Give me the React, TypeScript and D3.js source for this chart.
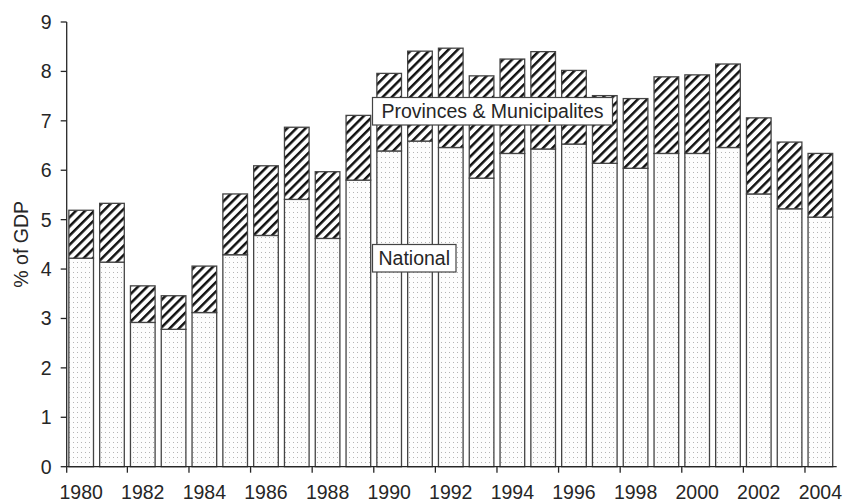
import React, { useEffect, useRef } from "react";
import * as d3 from "d3";

// years on the x axis
const years = d3.range(1980, 2005).map(String);

// national public investment, % of GDP
const national = [
  4.22, 4.14, 2.92, 2.78, 3.12, 4.29, 4.68, 5.41, 4.62, 5.8,
  6.39, 6.59, 6.46, 5.84, 6.34, 6.43, 6.53, 6.14, 6.04, 6.34,
  6.34, 6.46, 5.52, 5.22, 5.05,
];

// total incl. provinces & municipalities, % of GDP
const total = [
  5.19, 5.33, 3.66, 3.46, 4.06, 5.52, 6.09, 6.87, 5.97, 7.11,
  7.96, 8.41, 8.47, 7.91, 8.25, 8.4, 8.02, 7.51, 7.45, 7.89,
  7.93, 8.15, 7.06, 6.57, 6.34,
];

const yTicks = [0, 1, 2, 3, 4, 5, 6, 7, 8, 9];

const App = () => {
  const svgRef = useRef<SVGSVGElement>(null);

  useEffect(() => {
    const width = 845;
    const height = 504;
    const margin = { left: 66.7, right: 8.3, top: 22, bottom: 37.3 };
    const font = "Liberation Sans, Arial, sans-serif";
    const fs = "19.5px";
    const ink = "#262626";

    const svg = d3.select(svgRef.current);
    svg.selectAll("*").remove();

    // fill patterns
    const defs = svg.append("defs");
    const dots = defs
      .append("pattern")
      .attr("id", "dots")
      .attr("patternUnits", "userSpaceOnUse")
      .attr("width", 4)
      .attr("height", 5);
    dots.append("rect").attr("width", 4).attr("height", 5).attr("fill", "#fdfdfd");
    dots.append("rect").attr("x", 1).attr("y", 2).attr("width", 1).attr("height", 1).attr("fill", "#b4b4b4");

    const hatch = defs
      .append("pattern")
      .attr("id", "hatch")
      .attr("patternUnits", "userSpaceOnUse")
      .attr("width", 6.5)
      .attr("height", 6.5)
      .attr("patternTransform", "rotate(45)");
    hatch.append("rect").attr("width", 6.5).attr("height", 6.5).attr("fill", "#fff");
    hatch.append("rect").attr("x", 0).attr("y", 0).attr("width", 2.5).attr("height", 6.5).attr("fill", "#111");

    const x = d3
      .scaleBand()
      .domain(years)
      .range([margin.left, width - margin.right])
      .paddingInner(0.2)
      .paddingOuter(0.1)
      .align(0.35);
    const y = d3.scaleLinear().domain([0, 9]).range([height - margin.bottom, margin.top]);
    const gap = x.step() - x.bandwidth();

    // national (bottom) segments
    svg
      .append("g")
      .selectAll("rect")
      .data(years)
      .enter()
      .append("rect")
      .attr("x", d => x(d)!)
      .attr("width", x.bandwidth())
      .attr("y", (d, i) => y(national[i]))
      .attr("height", (d, i) => y(0) - y(national[i]))
      .attr("fill", "url(#dots)")
      .attr("stroke", "#444")
      .attr("stroke-width", 1.3);

    // provinces & municipalities (top) segments
    svg
      .append("g")
      .selectAll("rect")
      .data(years)
      .enter()
      .append("rect")
      .attr("x", d => x(d)!)
      .attr("width", x.bandwidth())
      .attr("y", (d, i) => y(total[i]))
      .attr("height", (d, i) => y(national[i]) - y(total[i]))
      .attr("fill", "url(#hatch)")
      .attr("stroke", "#444")
      .attr("stroke-width", 1.3);

    // y axis
    const yAxis = svg.append("g").attr("transform", `translate(${margin.left},0)`);
    yAxis
      .append("line")
      .attr("y1", y(0))
      .attr("y2", y(9))
      .attr("stroke", ink)
      .attr("stroke-width", 1.3);
    yAxis
      .selectAll("line.tick")
      .data(yTicks)
      .enter()
      .append("line")
      .attr("class", "tick")
      .attr("x1", -6)
      .attr("x2", 0)
      .attr("y1", d => y(d))
      .attr("y2", d => y(d))
      .attr("stroke", ink)
      .attr("stroke-width", 1.3);
    yAxis
      .selectAll("text")
      .data(yTicks)
      .enter()
      .append("text")
      .attr("x", -15)
      .attr("y", d => y(d) + 7)
      .attr("text-anchor", "end")
      .style("font-family", font)
      .style("font-size", fs)
      .attr("fill", ink)
      .text(d => d);

    // x axis
    const xAxis = svg.append("g").attr("transform", `translate(0,${y(0)})`);
    xAxis
      .append("line")
      .attr("x1", margin.left)
      .attr("x2", width - margin.right)
      .attr("stroke", ink)
      .attr("stroke-width", 1.3);
    const evenYears = years.filter(d => +d % 2 === 0);
    xAxis
      .selectAll("line.tick")
      .data(evenYears)
      .enter()
      .append("line")
      .attr("class", "tick")
      .attr("x1", d => (d === "1980" ? margin.left : x(d)! - gap / 2))
      .attr("x2", d => (d === "1980" ? margin.left : x(d)! - gap / 2))
      .attr("y1", 0)
      .attr("y2", 6)
      .attr("stroke", ink)
      .attr("stroke-width", 1.3);
    xAxis
      .selectAll("text")
      .data(evenYears)
      .enter()
      .append("text")
      .attr("x", d => x(d)! + x.bandwidth() / 2)
      .attr("y", 32.8)
      .attr("text-anchor", "middle")
      .style("font-family", font)
      .style("font-size", fs)
      .attr("fill", ink)
      .text(d => d);

    // axis title
    svg
      .append("text")
      .attr("transform", `translate(28,${(y(0) + y(9)) / 2}) rotate(-90)`)
      .attr("text-anchor", "middle")
      .style("font-family", font)
      .style("font-size", fs)
      .attr("fill", ink)
      .text("% of GDP");

    // in-chart labels
    const labels = [
      { text: "Provinces & Municipalites", x: 372.5, y: 97.5, w: 240, h: 27.5 },
      { text: "National", x: 372.5, y: 244.5, w: 83.5, h: 27.5 },
    ];
    const lab = svg.append("g").selectAll("g").data(labels).enter().append("g");
    lab
      .append("rect")
      .attr("x", d => d.x)
      .attr("y", d => d.y)
      .attr("width", d => d.w)
      .attr("height", d => d.h)
      .attr("fill", "#fff")
      .attr("stroke", "#444")
      .attr("stroke-width", 1.2);
    lab
      .append("text")
      .attr("x", d => d.x + d.w / 2)
      .attr("y", d => d.y + d.h / 2 + 7)
      .attr("text-anchor", "middle")
      .style("font-family", font)
      .style("font-size", fs)
      .attr("fill", ink)
      .text(d => d.text);
  }, []);

  return (
    <svg
      ref={svgRef}
      width={845}
      height={504}
      style={{ position: "absolute", left: 0, top: 0, background: "#fff" }}
    />
  );
};

export default App;
